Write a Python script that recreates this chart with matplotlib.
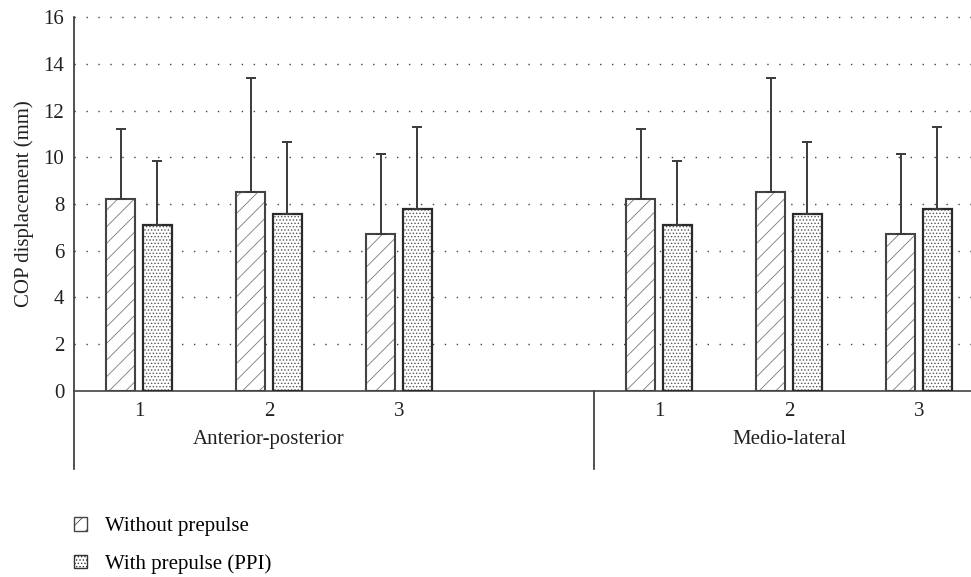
import matplotlib
matplotlib.use('Agg')
import matplotlib.pyplot as plt
from matplotlib.patches import Patch
import numpy as np

plt.rcParams['font.family'] = ['Liberation Serif', 'DejaVu Serif']
plt.rcParams['font.size'] = 15
plt.rcParams['hatch.linewidth'] = 0.6

# values (mm)
groups = ['Anterior-posterior', 'Medio-lateral']
conditions = ['1', '2', '3']
ap_without = [8.2, 8.5, 6.7]
ap_without_sd = [3.0, 4.9, 3.45]
ap_with = [7.08, 7.57, 7.8]
ap_with_sd = [2.77, 3.1, 3.48]
ml_without = [8.2, 8.5, 6.7]
ml_without_sd = [3.0, 4.9, 3.45]
ml_with = [7.08, 7.57, 7.8]
ml_with_sd = [2.77, 3.1, 3.48]
series_labels = ['Without prepulse', 'With prepulse (PPI)']

without_vals = ap_without + ml_without
without_err = ap_without_sd + ml_without_sd
with_vals = ap_with + ml_with
with_err = ap_with_sd + ml_with_sd

# slot positions: 3 conditions, one empty slot, 3 conditions
x = np.array([0, 1, 2, 4, 5, 6])
w = 0.225
off = 0.142

fig = plt.figure(figsize=(9.71, 5.77), dpi=100)
ax = fig.add_axes([74 / 971, 1 - 390.7 / 577, 1 - 74 / 971, 373.4 / 577])

# hatch layer, then outline layer
ax.bar(x - off, without_vals, w, color='white', edgecolor='#7a7a7a', hatch='//', linewidth=0, zorder=2)
ax.bar(x - off, without_vals, w, fill=False, edgecolor='#444444', linewidth=1.5, zorder=3)
ax.bar(x + off, with_vals, w, color='white', edgecolor='#555555', hatch='.....', linewidth=0, zorder=2)
ax.bar(x + off, with_vals, w, fill=False, edgecolor='#2a2a2a', linewidth=1.6, zorder=3)

zeros = np.zeros(len(x))
ax.errorbar(x - off, without_vals, yerr=[zeros, without_err], fmt='none', ecolor='#3a3a3a',
            elinewidth=1.4, capsize=3.6, capthick=1.4, zorder=4)
ax.errorbar(x + off, with_vals, yerr=[zeros, with_err], fmt='none', ecolor='#3a3a3a',
            elinewidth=1.4, capsize=3.6, capthick=1.4, zorder=4)

ax.set_xlim(-0.5, 6.4)
ax.set_ylim(0, 16)
ax.set_yticks(np.arange(0, 17, 2))
ax.set_xticks(x, conditions * 2)
ax.tick_params(axis='both', length=0, colors='#222222')
ax.tick_params(axis='y', pad=7)
ax.tick_params(axis='x', pad=8)

for g in np.arange(2, 17, 2):
    ax.axhline(g, color='#444444', linewidth=1.0, linestyle=(0, (1, 7.6)), zorder=0, clip_on=False)

for s in ['top', 'right', 'left']:
    ax.spines[s].set_visible(False)
ax.spines['bottom'].set_color('#444444')
ax.spines['bottom'].set_linewidth(1.2)

tr = ax.get_xaxis_transform()
ax.plot([-0.5, -0.5], [1, -0.21], transform=tr, color='#333333', linewidth=1.2, clip_on=False)
ax.plot([3.5, 3.5], [0, -0.21], transform=tr, color='#333333', linewidth=1.2, clip_on=False)
ax.text(1.0, -0.132, groups[0], transform=tr, ha='center', va='center', color='#222222')
ax.text(5.0, -0.132, groups[1], transform=tr, ha='center', va='center', color='#222222')

ax.set_ylabel('COP displacement (mm)', color='#222222', labelpad=7)

handles = [Patch(facecolor='white', edgecolor='#444444', hatch='//', linewidth=1.0),
           Patch(facecolor='white', edgecolor='#333333', hatch='.....', linewidth=1.0)]
fig.legend(handles, series_labels, loc='upper left', bbox_to_anchor=(64 / 971, 1 - 507 / 577),
           frameon=False, handlelength=0.62, handleheight=0.62, handletextpad=0.85,
           labelspacing=0.84, borderpad=0, fontsize=15)

fig.savefig('out.png', dpi=100)
